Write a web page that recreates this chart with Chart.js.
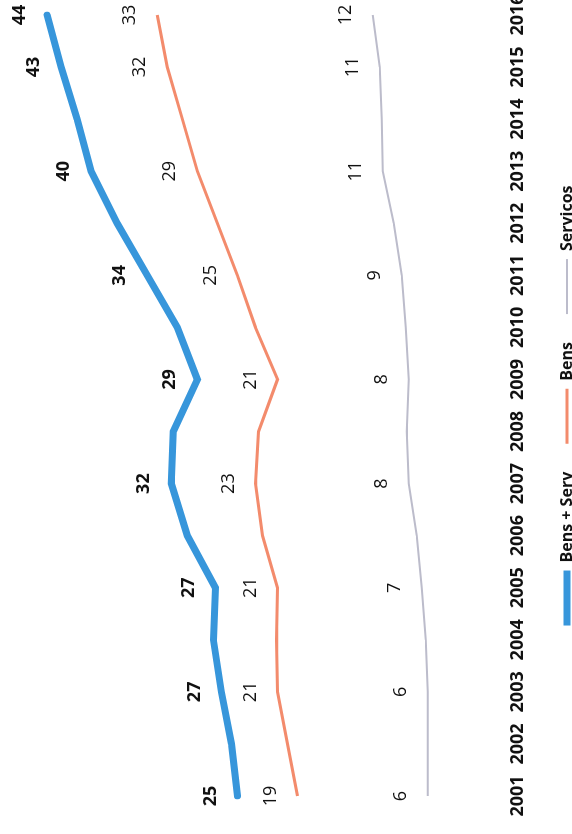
<!DOCTYPE html>
<html>
<head>
<meta charset="utf-8">
<script src="https://cdn.jsdelivr.net/npm/chart.js@4.4.1/dist/chart.umd.min.js"></script>
<style>
  html, body { margin: 0; padding: 0; background: #fff; }
  body { width: 572px; height: 834px; overflow: hidden; position: relative; }
  /* le graphique est photographié tourné de 90° */
  #wrap {
    position: absolute; left: 0; top: 0;
    width: 834px; height: 585px;
    transform-origin: 0 0;
    transform: rotate(-90deg) translateX(-834px);
  }
</style>
</head>
<body>
<div id="wrap"><canvas id="chart" width="834" height="585"></canvas></div>
<script>
const years = ["2001", "2002", "2003", "2004", "2005", "2006", "2007", "2008",
  "2009", "2010", "2011", "2012", "2013", "2014", "2015", "2016"];
const bensServ = [25, 25.6, 26.6, 27.4, 27.2, 30, 31.6, 31.4, 29, 31, 34, 37, 39.6, 41, 42.6, 44];
const bens = [19, 20, 21, 21.1, 21, 22.5, 23.2, 22.9, 21, 23.2, 25, 27, 29, 30.5, 32, 33];
const servicos = [6, 6, 6, 6.2, 6.6, 7.1, 7.9, 8.1, 7.9, 8.2, 8.6, 9.4, 10.5, 10.6, 10.8, 11.5];
// années dont la valeur est affichée
const labelIdx = [0, 2, 4, 6, 8, 10, 12, 14, 15];

const FONT = "'Open Sans', 'Noto Sans', sans-serif";

const valueLabels = {
  id: "valueLabels",
  afterDatasetsDraw(chart) {
    const ctx = chart.ctx;
    ctx.save();
    ctx.textAlign = "center";
    ctx.textBaseline = "middle";
    ctx.fillStyle = "#111";
    chart.data.datasets.forEach((ds, i) => {
      const meta = chart.getDatasetMeta(i);
      ctx.font = `${ds.labelBold ? "bold " : ""}18px ${FONT}`;
      labelIdx.forEach((j) => {
        const pt = meta.data[j];
        ctx.fillText(String(Math.round(ds.data[j])), pt.x, pt.y - 27);
      });
    });
    ctx.restore();
  }
};

new Chart(document.querySelector("#chart"), {
  type: "line",
  data: {
    labels: years,
    datasets: [
      {
        label: "Bens + Serv",
        data: bensServ,
        borderColor: "#3796db",
        backgroundColor: "#3796db",
        borderWidth: 7,
        borderCapStyle: "round",
        pointRadius: 0,
        tension: 0,
        labelBold: true
      },
      {
        label: "Bens",
        data: bens,
        borderColor: "#f38b6c",
        backgroundColor: "#f38b6c",
        borderWidth: 3,
        pointRadius: 0,
        tension: 0
      },
      {
        label: "Servicos",
        data: servicos,
        borderColor: "#bcbccb",
        backgroundColor: "#bcbccb",
        borderWidth: 2,
        pointRadius: 0,
        tension: 0
      }
    ]
  },
  options: {
    responsive: false,
    animation: false,
    layout: { padding: { left: 38, right: 15, top: 37, bottom: 0 } },
    plugins: {
      tooltip: { enabled: false },
      legend: {
        position: "bottom",
        labels: {
          // boîte de hauteur nulle : seul le trait (épaisseur de la série) reste
          boxWidth: 55,
          boxHeight: 0,
          padding: 28,
          color: "#111",
          font: { family: FONT, size: 16, weight: "bold" }
        }
      }
    },
    scales: {
      x: {
        grid: { display: false, drawTicks: false },
        border: { display: false },
        ticks: {
          autoSkip: false,
          maxRotation: 0,
          padding: 19,
          color: "#111",
          font: { family: FONT, size: 18, weight: "bold" }
        },
        afterFit(scale) {
          scale.paddingLeft = 0;
          scale.paddingRight = 0;
          scale.height = 43;
        }
      },
      y: { display: false, min: 0, max: 45 }
    }
  },
  plugins: [valueLabels]
});
</script>
</body>
</html>
